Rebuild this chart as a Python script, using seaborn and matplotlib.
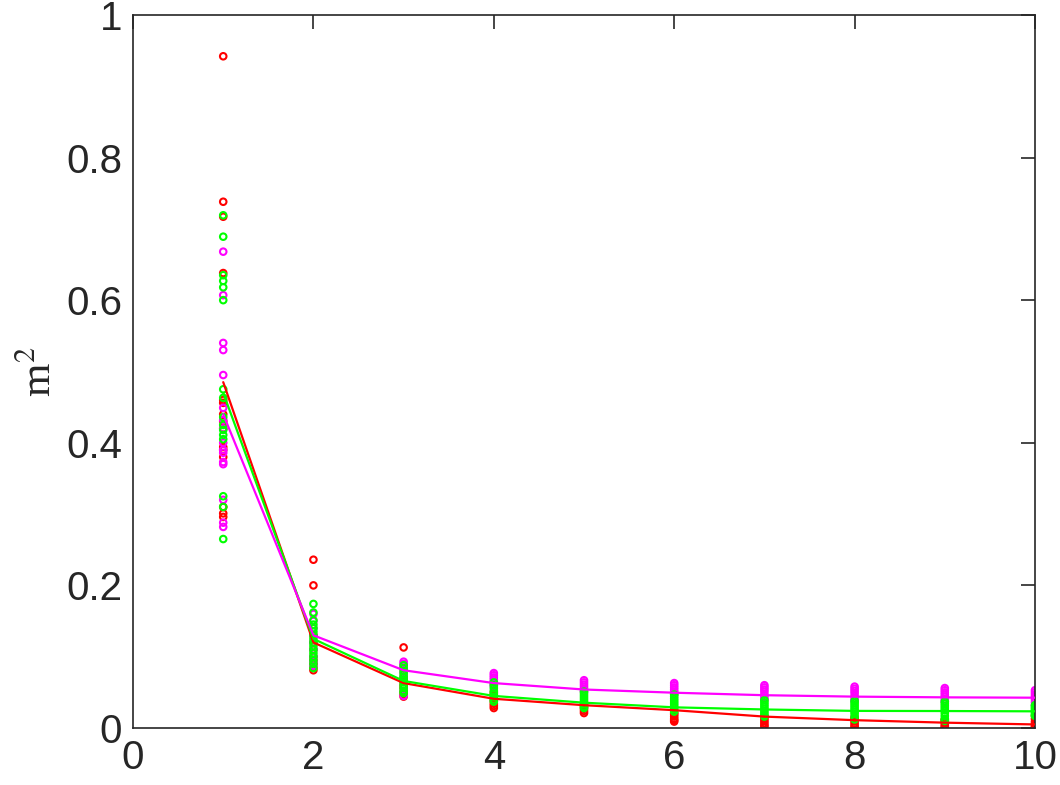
import numpy as np
import pandas as pd
import matplotlib
matplotlib.use("Agg")
import matplotlib.pyplot as plt
import seaborn as sns

# ---- data ----
x_steps = [1, 2, 3, 4, 5, 6, 7, 8, 9, 10]

# line (average) values
red_line = [0.485, 0.120, 0.063, 0.041, 0.032, 0.025, 0.016, 0.011, 0.0075, 0.005]
green_line = [0.470, 0.125, 0.066, 0.045, 0.0355, 0.029, 0.026, 0.024, 0.0238, 0.0234]
magenta_line = [0.440, 0.130, 0.081, 0.063, 0.054, 0.0495, 0.046, 0.044, 0.043, 0.0425]

# individual samples per step
red_pts = {
    1: [0.942, 0.738, 0.717, 0.638, 0.456, 0.394, 0.301, 0.296, 0.31, 0.44, 0.42, 0.46, 0.39, 0.43, 0.38],
    2: [0.236, 0.200, 0.130, 0.120, 0.110, 0.100, 0.095, 0.090, 0.085, 0.081],
    3: [0.113, 0.070, 0.065, 0.060, 0.056, 0.051, 0.047, 0.044],
    4: [0.050, 0.046, 0.042, 0.038, 0.034, 0.031, 0.028],
    5: [0.035, 0.032, 0.030, 0.027, 0.024, 0.021],
    6: [0.021, 0.019, 0.016, 0.013, 0.011, 0.009],
    7: [0.016, 0.013, 0.010, 0.007, 0.004, 0.002],
    8: [0.015, 0.012, 0.009, 0.006, 0.003, 0.001],
    9: [0.012, 0.010, 0.007, 0.004, 0.002, 0.000],
    10: [0.017, 0.013, 0.009, 0.006, 0.003, 0.001],
}
magenta_pts = {
    1: [0.668, 0.607, 0.540, 0.530, 0.495, 0.449, 0.432, 0.390, 0.386, 0.373, 0.370, 0.320, 0.288, 0.282, 0.40, 0.42],
    2: [0.160, 0.150, 0.140, 0.130, 0.120, 0.110, 0.100, 0.093, 0.087],
    3: [0.093, 0.090, 0.087, 0.083, 0.078, 0.072, 0.045],
    4: [0.077, 0.074, 0.071, 0.068, 0.065, 0.062, 0.059],
    5: [0.067, 0.064, 0.061, 0.058, 0.055, 0.053, 0.051],
    6: [0.063, 0.060, 0.057, 0.054, 0.051, 0.049, 0.047],
    7: [0.060, 0.057, 0.054, 0.051, 0.047, 0.043, 0.040],
    8: [0.058, 0.055, 0.052, 0.049, 0.045, 0.041, 0.038],
    9: [0.056, 0.053, 0.050, 0.047, 0.044, 0.040, 0.037],
    10: [0.053, 0.050, 0.047, 0.044, 0.040, 0.036, 0.032],
}
green_pts = {
    1: [0.719, 0.689, 0.635, 0.627, 0.618, 0.600, 0.475, 0.463, 0.436, 0.425, 0.418, 0.411, 0.405, 0.325, 0.310, 0.265],
    2: [0.174, 0.162, 0.151, 0.145, 0.140, 0.135, 0.130, 0.125, 0.120, 0.115, 0.110, 0.105, 0.100, 0.095, 0.090, 0.084],
    3: [0.088, 0.084, 0.080, 0.076, 0.072, 0.068, 0.064, 0.060, 0.056, 0.052, 0.049],
    4: [0.064, 0.060, 0.056, 0.052, 0.048, 0.044, 0.040, 0.037],
    5: [0.051, 0.048, 0.045, 0.042, 0.039, 0.036, 0.033, 0.030, 0.028],
    6: [0.047, 0.044, 0.041, 0.038, 0.035, 0.032, 0.029, 0.026, 0.023],
    7: [0.039, 0.036, 0.033, 0.030, 0.027, 0.024, 0.021, 0.018, 0.016],
    8: [0.038, 0.035, 0.032, 0.029, 0.026, 0.023, 0.020, 0.016, 0.012],
    9: [0.037, 0.034, 0.031, 0.028, 0.025, 0.021, 0.017, 0.013, 0.010],
    10: [0.032, 0.030, 0.028, 0.026, 0.024, 0.022, 0.020, 0.018, 0.017],
}

x_ticks = [0, 2, 4, 6, 8, 10]
y_ticks = [0, 0.2, 0.4, 0.6, 0.8, 1]
y_tick_labels = ["0", "0.2", "0.4", "0.6", "0.8", "1"]

# ---- build tables ----
def pts_frame(d, name):
    rows = []
    for k, vals in d.items():
        for v in vals:
            rows.append({"x": k, "y": v, "series": name})
    return pd.DataFrame(rows)

scatter_df = pd.concat([pts_frame(red_pts, "red"),
                        pts_frame(magenta_pts, "magenta"),
                        pts_frame(green_pts, "green")], ignore_index=True)
line_df = pd.concat([
    pd.DataFrame({"x": x_steps, "y": red_line, "series": "red"}),
    pd.DataFrame({"x": x_steps, "y": green_line, "series": "green"}),
    pd.DataFrame({"x": x_steps, "y": magenta_line, "series": "magenta"}),
], ignore_index=True)

palette = {"red": "#ff0000", "green": "#00ff00", "magenta": "#ff00ff"}

sns.set_style("white")
plt.rcParams["font.family"] = ["Liberation Sans", "DejaVu Sans"]

fig = plt.figure(figsize=(10.6, 7.85), dpi=100)
ax = fig.add_axes([0.1255, 0.0726, 0.8509, 0.9084])

for name in ["red", "magenta", "green"]:
    sub = scatter_df[scatter_df["series"] == name]
    sns.scatterplot(data=sub, x="x", y="y", ax=ax, marker="o",
                    facecolors="none", edgecolor=palette[name], linewidth=1.5,
                    s=22, legend=False, zorder=2)

for name in ["red", "green", "magenta"]:
    sub = line_df[line_df["series"] == name]
    sns.lineplot(data=sub, x="x", y="y", ax=ax, color=palette[name],
                 linewidth=1.6, legend=False, zorder=3)

ax.set_xlim(0, 10)
ax.set_ylim(0, 1)
ax.set_xticks(x_ticks)
ax.set_yticks(y_ticks)
ax.set_yticklabels(y_tick_labels)
ax.set_xlabel("")
ax.set_ylabel("m$^2$", fontsize=31, family="Liberation Serif", labelpad=4)
ax.yaxis.label.set_math_fontfamily("stix")

ax.tick_params(axis="both", which="both", direction="in", length=10, width=1.2,
               colors="#262626", labelsize=29, top=True, right=True, pad=8)
for sp in ax.spines.values():
    sp.set_visible(True)
    sp.set_color("#262626")
    sp.set_linewidth(1.2)

fig.savefig("out.png", dpi=100, facecolor="white")
